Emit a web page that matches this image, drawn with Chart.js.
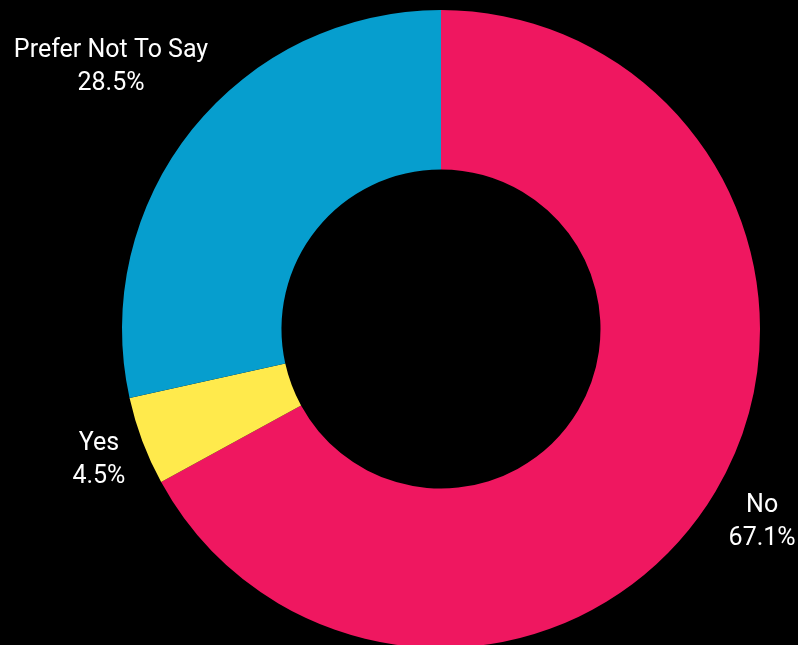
<!DOCTYPE html>
<html>
<head>
<meta charset="utf-8">
<script src="https://cdn.jsdelivr.net/npm/chart.js@4/dist/chart.umd.min.js"></script>
<style>
  html, body { margin: 0; padding: 0; background: #000; overflow: hidden; }
  #wrap { position: relative; width: 798px; height: 660px; }
</style>
</head>
<body>
<div id="wrap"><canvas id="chart"></canvas></div>
<script>
// Survey answers and their shares (percent)
const categories = ['No', 'Yes', 'Prefer Not To Say'];
const shares = [67.1, 4.5, 28.5];
const sliceColors = ['#EF1760', '#FFEA4C', '#069ECE'];

// Writes "name / share%" outside each slice, pushed out along the slice's mid-angle
const outsideLabels = {
  id: 'outsideLabels',
  afterDatasetsDraw(chart, args, opts) {
    const ctx = chart.ctx;
    const meta = chart.getDatasetMeta(0);
    const lineGap = opts.lineGap;
    ctx.save();
    ctx.font = opts.font;
    ctx.fillStyle = opts.color;
    ctx.textAlign = 'center';
    ctx.textBaseline = 'middle';
    meta.data.forEach((arc, i) => {
      const p = arc.getProps(['x', 'y', 'startAngle', 'endAngle', 'outerRadius'], true);
      const mid = (p.startAngle + p.endAngle) / 2;
      const dx = Math.cos(mid), dy = Math.sin(mid);
      const lines = [categories[i], shares[i].toFixed(1) + '%'];
      const w = Math.max(...lines.map(t => ctx.measureText(t).width));
      const h = lineGap + opts.capHeight;
      const half = Math.abs(dx) * w / 2 + Math.abs(dy) * h / 2;
      const r = p.outerRadius + opts.pad + half;
      const cx = p.x + dx * r;
      const cy = p.y + dy * r + opts.baselineShift;
      ctx.fillText(lines[0], cx, cy - lineGap / 2);
      ctx.fillText(lines[1], cx, cy + lineGap / 2);
    });
    ctx.restore();
  }
};

new Chart(document.getElementById('chart'), {
  type: 'doughnut',
  data: {
    labels: categories,
    datasets: [{
      data: shares,
      backgroundColor: sliceColors,
      borderWidth: 0,
      hoverOffset: 0
    }]
  },
  options: {
    responsive: true,
    maintainAspectRatio: false,
    animation: false,
    cutout: '50%',
    layout: { padding: { left: 122, right: 38, top: 10, bottom: 12 } },
    plugins: {
      legend: { display: false },
      tooltip: { enabled: false },
      outsideLabels: {
        font: '25px Roboto',
        color: '#ffffff',
        lineGap: 33,
        capHeight: 16,
        pad: 13,
        baselineShift: 3
      }
    }
  },
  plugins: [outsideLabels]
});
</script>
</body>
</html>
